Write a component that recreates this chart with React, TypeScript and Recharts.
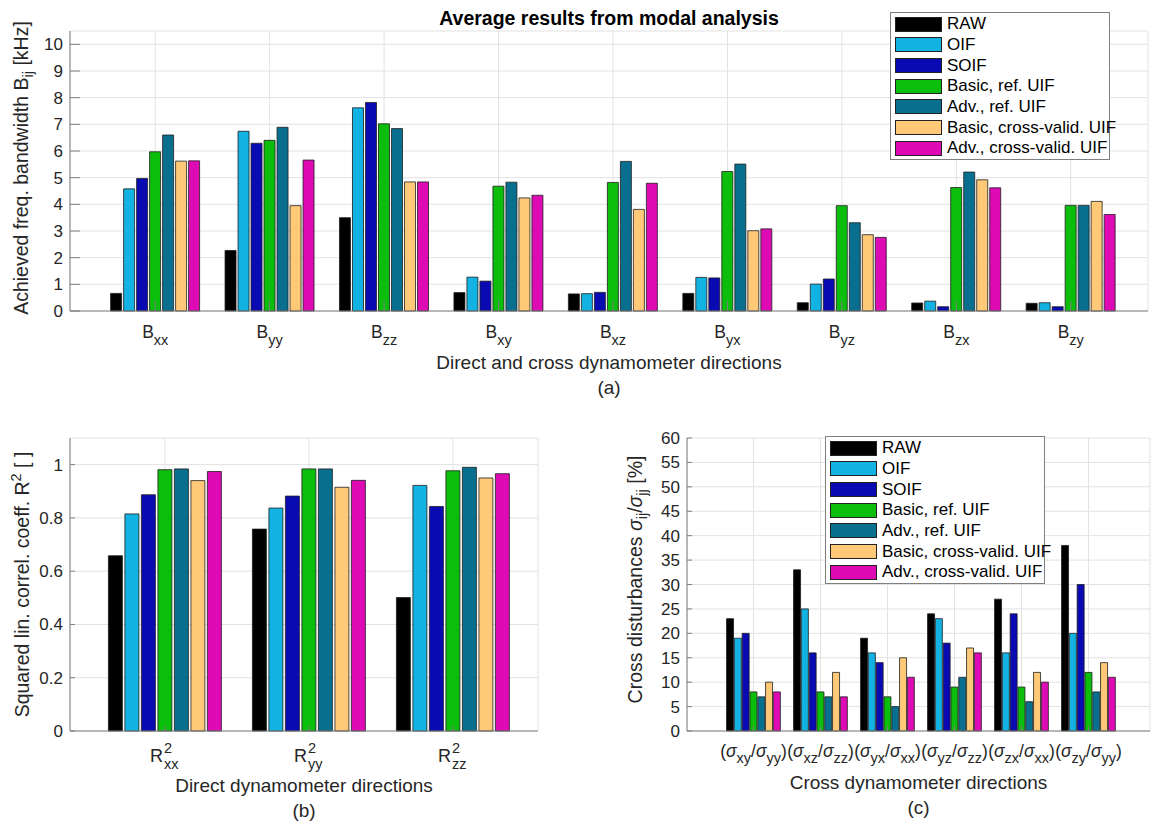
import React from 'react'
import { BarChart, Bar, XAxis, YAxis, CartesianGrid, Legend } from 'recharts'

const FONT = '"Liberation Sans", Arial, Helvetica, sans-serif'
const TEXT = '#262626'
const AXIS = '#7f7f7f'
const GRID = '#e2e2e2'

const seriesKeys = ['raw', 'oif', 'soif', 'basicRef', 'advRef', 'basicCv', 'advCv']
const seriesNames = ['RAW', 'OIF', 'SOIF', 'Basic, ref. UIF', 'Adv., ref. UIF', 'Basic, cross-valid. UIF', 'Adv., cross-valid. UIF']
const seriesColors = ['#000000', '#12B3E3', '#0A0AB2', '#0CBE0C', '#08708E', '#FFC978', '#DE0AB4']

// (a) achieved bandwidth B_ij [kHz]
const bwDirs = ['xx', 'yy', 'zz', 'xy', 'xz', 'yx', 'yz', 'zx', 'zy']
const bwRaw = [0.66, 2.27, 3.5, 0.69, 0.64, 0.66, 0.31, 0.3, 0.29]
const bwOif = [4.58, 6.74, 7.62, 1.27, 0.65, 1.26, 1.01, 0.37, 0.31]
const bwSoif = [4.97, 6.29, 7.82, 1.12, 0.7, 1.24, 1.2, 0.16, 0.16]
const bwBasicRef = [5.97, 6.4, 7.02, 4.68, 4.82, 5.23, 3.95, 4.63, 3.96]
const bwAdvRef = [6.6, 6.89, 6.84, 4.83, 5.61, 5.51, 3.31, 5.21, 3.96]
const bwBasicCv = [5.62, 3.95, 4.84, 4.24, 3.81, 3.01, 2.86, 4.92, 4.11]
const bwAdvCv = [5.63, 5.66, 4.84, 4.34, 4.79, 3.08, 2.76, 4.62, 3.62]
const bwTicks = [0, 1, 2, 3, 4, 5, 6, 7, 8, 9, 10]

// (b) squared linear correlation coefficient R^2
const r2Dirs = ['xx', 'yy', 'zz']
const r2Raw = [0.658, 0.758, 0.501]
const r2Oif = [0.815, 0.837, 0.922]
const r2Soif = [0.887, 0.882, 0.843]
const r2BasicRef = [0.981, 0.984, 0.977]
const r2AdvRef = [0.984, 0.984, 0.99]
const r2BasicCv = [0.94, 0.915, 0.95]
const r2AdvCv = [0.974, 0.941, 0.966]
const r2Ticks = [0, 0.2, 0.4, 0.6, 0.8, 1]

// (c) cross disturbances sigma_ij / sigma_jj [%]
const csDirs = ['xy/yy', 'xz/zz', 'yx/xx', 'yz/zz', 'zx/xx', 'zy/yy']
const csRaw = [23, 33, 19, 24, 27, 38]
const csOif = [19, 25, 16, 23, 16, 20]
const csSoif = [20, 16, 14, 18, 24, 30]
const csBasicRef = [8, 8, 7, 9, 9, 12]
const csAdvRef = [7, 7, 5, 11, 6, 8]
const csBasicCv = [10, 12, 15, 17, 12, 14]
const csAdvCv = [8, 7, 11, 16, 10, 11]
const csTicks = [0, 5, 10, 15, 20, 25, 30, 35, 40, 45, 50, 55, 60]

function buildRows(labels: string[], series: number[][]) {
  return labels.map((label, i) => {
    const row: Record<string, string | number> = { label }
    seriesKeys.forEach((k, s) => { row[k] = series[s][i] })
    return row
  })
}

const bwRows = buildRows(bwDirs, [bwRaw, bwOif, bwSoif, bwBasicRef, bwAdvRef, bwBasicCv, bwAdvCv])
const r2Rows = buildRows(r2Dirs, [r2Raw, r2Oif, r2Soif, r2BasicRef, r2AdvRef, r2BasicCv, r2AdvCv])
const csRows = buildRows(csDirs, [csRaw, csOif, csSoif, csBasicRef, csAdvRef, csBasicCv, csAdvCv])

const noLabel = () => <g />

const tickText = { fill: TEXT, fontSize: 17, fontFamily: FONT }

const renderLegend = () => (
  <div style={{ width: 220, height: 148, boxSizing: 'border-box', border: `1px solid ${AXIS}`, background: '#fff', padding: '1px 0 0 4px', fontFamily: FONT }}>
    {seriesNames.map((name, i) => (
      <div key={name} style={{ display: 'flex', alignItems: 'center', height: 20.67 }}>
        <span style={{ display: 'inline-block', flex: 'none', boxSizing: 'border-box', width: 47, height: 15, background: seriesColors[i], border: '1px solid #222' }} />
        <span style={{ marginLeft: 5, fontSize: 17, color: '#000', whiteSpace: 'nowrap' }}>{name}</span>
      </div>
    ))}
  </div>
)

const bars = () =>
  seriesKeys.map((k, i) => (
    <Bar key={k} dataKey={k} name={seriesNames[i]} fill={seriesColors[i]} stroke="#1e1e1e" strokeWidth={0.8} isAnimationActive={false} />
  ))

// tick labels with sub/superscripts
const BTick = ({ x, y, payload }: any) => (
  <text x={x} y={y + 27} textAnchor="middle" fontFamily={FONT} fontSize={17.5} fill={TEXT}>
    B<tspan fontSize={14.5} dy={7}>{payload.value}</tspan>
  </text>
)

const RTick = ({ x, y, payload }: any) => (
  <g fontFamily={FONT} fill={TEXT}>
    <text x={x - 2} y={y + 31} textAnchor="end" fontSize={18}>R</text>
    <text x={x - 1} y={y + 22} textAnchor="start" fontSize={14.5}>2</text>
    <text x={x - 1} y={y + 38} textAnchor="start" fontSize={14.5}>{payload.value}</text>
  </g>
)

const SigmaTick = ({ x, y, payload }: any) => {
  const [num, den] = String(payload.value).split('/')
  return (
    <text x={x} y={y + 26} textAnchor="middle" fontFamily={FONT} fontSize={17.5} fill={TEXT}>
      (<tspan fontStyle="italic">σ</tspan><tspan fontSize={14.5} dy={6}>{num}</tspan><tspan dy={-6}>/</tspan><tspan fontStyle="italic">σ</tspan><tspan fontSize={14.5} dy={6}>{den}</tspan><tspan dy={-6}>)</tspan>
    </text>
  )
}

const xLabel = (title: string, caption: string, dy: number, heading?: string) => ({ viewBox }: any) => {
  const cx = viewBox.x + viewBox.width / 2
  return (
    <g fontFamily={FONT} fontSize={19} fill={TEXT}>
      {heading && (
        <text x={cx} y={25} textAnchor="middle" fontSize={19.5} fontWeight="bold" fill="#000">{heading}</text>
      )}
      <text x={cx} y={viewBox.y + dy} textAnchor="middle">{title}</text>
      <text x={cx} y={viewBox.y + dy + 25} textAnchor="middle">{caption}</text>
    </g>
  )
}

function BandwidthChart() {
  return (
    <BarChart width={1153} height={400} data={bwRows} margin={{ top: 31, right: 5, bottom: 0, left: 0 }} barCategoryGap={12.6} barGap={2}>
      <CartesianGrid stroke={GRID} />
      <XAxis dataKey="label" height={89} padding={{ left: 28, right: 20 }} tickSize={-10} tickMargin={10}
        stroke={AXIS} tick={BTick} interval={0}
        label={xLabel('Direct and cross dynamometer directions', '(a)', 58, 'Average results from modal analysis')} />
      <XAxis xAxisId="top" orientation="top" dataKey="label" height={0} padding={{ left: 28, right: 20 }} tickSize={-10}
        stroke={AXIS} tick={noLabel} interval={0} />
      <YAxis width={70} domain={[0, 10.5]} ticks={bwTicks} interval={0} tickSize={-10} tickMargin={17} stroke={AXIS} tick={tickText}
        label={({ viewBox }: any) => (
          <text transform={`translate(28, ${viewBox.y + viewBox.height / 2 - 3}) rotate(-90)`} textAnchor="middle" fontFamily={FONT} fontSize={19.5} fill={TEXT}>
            Achieved freq. bandwidth B<tspan fontSize={14.5} dy={5}>ij</tspan><tspan dy={-5}>{' [kHz]'}</tspan>
          </text>
        )} />
      <YAxis yAxisId="right" orientation="right" width={0} domain={[0, 10.5]} ticks={bwTicks} interval={0} tickSize={-10} stroke={AXIS} tick={noLabel} />
      <Legend layout="vertical" align="center" verticalAlign="middle" width={220} height={148}
        wrapperStyle={{ left: 890, top: 12 }} content={renderLegend} />
      {bars()}
    </BarChart>
  )
}

function CorrelationChart() {
  return (
    <BarChart width={560} height={423} data={r2Rows} margin={{ top: 38, right: 22, bottom: 0, left: 0 }} barCategoryGap={15.4} barGap={2.5}>
      <CartesianGrid stroke={GRID} />
      <XAxis dataKey="label" height={92} padding={{ left: 23, right: 13 }} tickSize={-5} tickMargin={5}
        stroke={AXIS} tick={RTick} interval={0}
        label={xLabel('Direct dynamometer directions', '(b)', 61)} />
      <XAxis xAxisId="top" orientation="top" dataKey="label" height={0} padding={{ left: 23, right: 13 }} tickSize={-5}
        stroke={AXIS} tick={noLabel} interval={0} />
      <YAxis width={70} domain={[0, 1.1]} ticks={r2Ticks} interval={0} tickSize={-5} tickMargin={12} stroke={AXIS} tick={tickText}
        label={({ viewBox }: any) => (
          <text transform={`translate(29, ${viewBox.y + viewBox.height / 2}) rotate(-90)`} textAnchor="middle" fontFamily={FONT} fontSize={19.5} fill={TEXT}>
            Squared lin. correl. coeff. R<tspan fontSize={14.5} dy={-8}>2</tspan><tspan dy={8}>{' [ ]'}</tspan>
          </text>
        )} />
      <YAxis yAxisId="right" orientation="right" width={0} domain={[0, 1.1]} ticks={r2Ticks} interval={0} tickSize={-5} stroke={AXIS} tick={noLabel} />
      {bars()}
    </BarChart>
  )
}

function CrossChart() {
  return (
    <BarChart width={573} height={423} data={csRows} margin={{ top: 38, right: 3, bottom: 0, left: 0 }} barCategoryGap={6.55} barGap={0.8}>
      <CartesianGrid stroke={GRID} />
      <XAxis dataKey="label" height={92} padding={{ left: 33, right: 28 }} tickSize={-5} tickMargin={5}
        stroke={AXIS} tick={SigmaTick} interval={0}
        label={xLabel('Cross dynamometer directions', '(c)', 58)} />
      <XAxis xAxisId="top" orientation="top" dataKey="label" height={0} padding={{ left: 33, right: 28 }} tickSize={-5}
        stroke={AXIS} tick={noLabel} interval={0} />
      <YAxis width={107} domain={[0, 60]} ticks={csTicks} interval={0} tickSize={-5} tickMargin={12} stroke={AXIS} tick={tickText}
        label={({ viewBox }: any) => (
          <text transform={`translate(62, ${viewBox.y + viewBox.height / 2 - 5}) rotate(-90)`} textAnchor="middle" fontFamily={FONT} fontSize={19.5} fill={TEXT}>
            Cross disturbances <tspan fontStyle="italic">σ</tspan><tspan fontSize={14.5} dy={5}>ij</tspan><tspan dy={-5}>/</tspan><tspan fontStyle="italic">σ</tspan><tspan fontSize={14.5} dy={5}>jj</tspan><tspan dy={-5}>{' [%]'}</tspan>
          </text>
        )} />
      <YAxis yAxisId="right" orientation="right" width={0} domain={[0, 60]} ticks={csTicks} interval={0} tickSize={-5} stroke={AXIS} tick={noLabel} />
      <Legend layout="vertical" align="center" verticalAlign="middle" width={220} height={148}
        wrapperStyle={{ left: 245, top: 36 }} content={renderLegend} />
      {bars()}
    </BarChart>
  )
}

export default function App() {
  return (
    <div style={{ position: 'absolute', left: 0, top: 0, width: 1153, height: 823, background: '#fff', fontFamily: FONT }}>
      <div style={{ position: 'absolute', left: 0, top: 0 }}>
        <BandwidthChart />
      </div>
      <div style={{ position: 'absolute', left: 0, top: 400 }}>
        <CorrelationChart />
      </div>
      <div style={{ position: 'absolute', left: 580, top: 400 }}>
        <CrossChart />
      </div>
    </div>
  )
}
